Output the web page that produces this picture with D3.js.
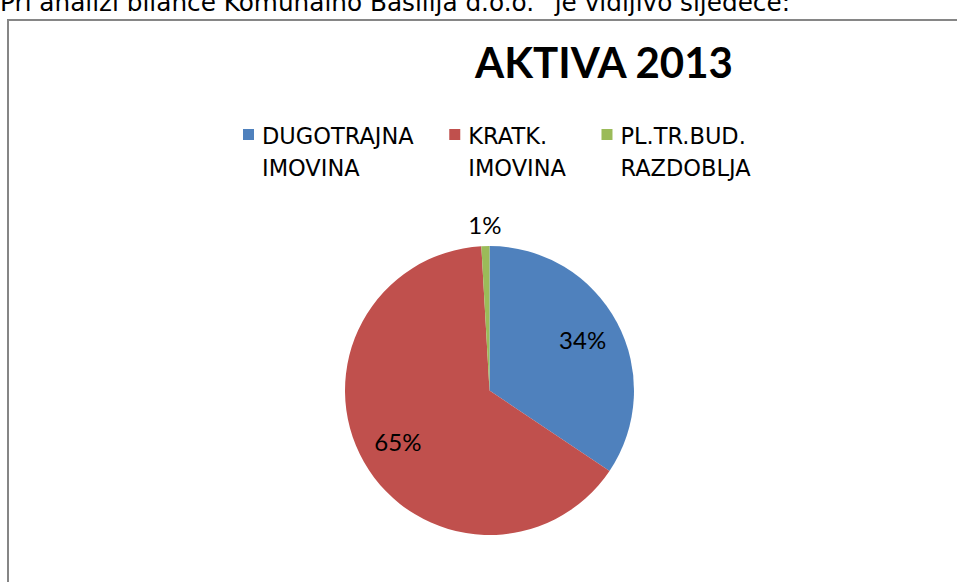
<!DOCTYPE html>
<html>
<head>
<meta charset="utf-8">
<script src="https://cdn.jsdelivr.net/npm/d3@7"></script>
<style>
  body { margin: 0; background: #fff; overflow: hidden; }
  svg { display: block; }
</style>
</head>
<body>
<script>
var width = 957, height = 582;

// data
var categories = ['DUGOTRAJNA IMOVINA', 'KRATK. IMOVINA', 'PL.TR.BUD. RAZDOBLJA'];
var values = [34.4, 64.7, 0.9];
var colors = ['#4F81BD', '#C0504D', '#9BBB59'];
var title = 'AKTIVA 2013';
var introText = 'Pri analizi bilance Komunalno Basilija d.o.o.“ je vidljivo sljedeće:';

var svg = d3.select('body').append('svg')
    .attr('width', width)
    .attr('height', height);

// text of the document above the chart (cut off at the top, as in the page)
svg.append('text')
    .attr('x', 0)
    .attr('y', 11)
    .attr('font-family', 'DejaVu Sans')
    .attr('font-size', '24px')
    .attr('textLength', 790)
    .attr('lengthAdjust', 'spacingAndGlyphs')
    .attr('fill', '#000')
    .text(introText);

// chart frame, runs off right and bottom
svg.append('rect')
    .attr('x', 8)
    .attr('y', 20)
    .attr('width', 1000)
    .attr('height', 700)
    .attr('fill', 'none')
    .attr('stroke', '#868686')
    .attr('stroke-width', 2);

svg.append('text')
    .attr('x', 604)
    .attr('y', 78)
    .attr('text-anchor', 'middle')
    .attr('font-family', 'Lato')
    .attr('font-weight', 'bold')
    .attr('font-size', '42px')
    .attr('fill', '#000')
    .text(title);

// legend
var color = d3.scaleOrdinal().domain(categories).range(colors);
var legend = svg.append('g');
var items = legend.selectAll('g')
    .data(categories)
    .enter().append('g');

items.append('rect')
    .attr('x', 0)
    .attr('y', -15)
    .attr('width', 11)
    .attr('height', 11)
    .attr('fill', function(d){ return color(d); });

items.append('text')
    .attr('font-family', 'DejaVu Sans')
    .attr('font-size', '22.5px')
    .attr('fill', '#000')
    .selectAll('tspan')
    .data(function(d){
        var i = d.indexOf(' ');
        return [d.slice(0, i), d.slice(i + 1)];
    })
    .enter().append('tspan')
    .attr('x', 19)
    .attr('y', function(d, i){ return i * 32; })
    .text(function(d){ return d; });

var lx = 243;
items.each(function(){
    var w = this.getBBox().width;
    d3.select(this).attr('transform', 'translate(' + lx + ',144)');
    lx += w + 35;
});

// pie
var cx = 489.5, cy = 390.5, r = 144.5;
var pie = d3.pie().sort(null).value(function(d){ return d; });
var arcs = pie(values);
var total = d3.sum(values);
var arc = d3.arc().innerRadius(0).outerRadius(r);
var labelArc = d3.arc().innerRadius(r * 0.73).outerRadius(r * 0.73);
var outerArc = d3.arc().innerRadius(r + 20).outerRadius(r + 20);
var fmt = d3.format('.0%');

var g = svg.append('g')
    .attr('transform', 'translate(' + cx + ',' + cy + ')');

g.selectAll('path')
    .data(arcs)
    .enter().append('path')
    .attr('d', arc)
    .attr('fill', function(d, i){ return color(categories[i]); });

g.selectAll('text')
    .data(arcs)
    .enter().append('text')
    .attr('transform', function(d){
        var c = (d.value / total < 0.05) ? outerArc.centroid(d) : labelArc.centroid(d);
        return 'translate(' + c + ')';
    })
    .attr('text-anchor', 'middle')
    .attr('dy', '0.35em')
    .attr('font-family', 'Lato')
    .attr('font-size', '24px')
    .attr('fill', '#000')
    .text(function(d){ return fmt(d.value / total); });
</script>
</body>
</html>
